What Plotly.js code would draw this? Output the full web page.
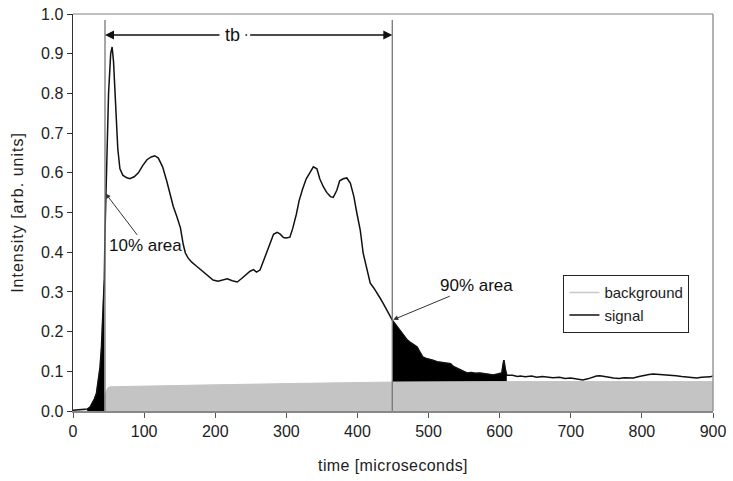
<!DOCTYPE html>
<html>
<head>
<meta charset="utf-8">
<script src="https://cdn.plot.ly/plotly-3.0.1.min.js"></script>
<style>
html,body{margin:0;padding:0;background:#fff;}
#chart{width:733px;height:481px;}
text.xtitle{letter-spacing:0.4px;}
text.ytitle{letter-spacing:1px;}
</style>
</head>
<body>
<div id="chart"></div>
<script>
// time axis (microseconds) and signal intensity
var signalTime = [0,10,20,24,27,30,33,36,38,40,42,44,45,47,50,53,55,57,60,63,
  66,70,75,80,86,92,98,104,110,115,120,126,132,137,141,146,151,155,158,162,
  167,173,179,184,190,197,204,210,217,224,231,238,245,249,254,258,263,267,272,277,
  282,287,291,296,300,305,309,314,318,323,328,333,338,343,347,352,357,362,366,371,
  375,380,385,390,395,399,404,408,411,415,418,423,427,432,436,441,446,449,
  452,456,460,465,470,475,480,484,488,492,497,502,506,512,518,526,531,535,540,546,
  550,554,560,566,572,578,584,591,597,603,605,606,608,610,618,625,629,636,645,652,
  660,667,675,684,692,700,708,717,724,730,736,741,748,754,760,768,775,782,788,796,
  803,810,816,824,832,840,848,856,864,870,877,884,890,896,900];
var signalValue = [0.002,0.003,0.005,0.01,0.02,0.03,0.045,0.08,0.11,0.16,0.24,0.33,0.45,0.62,0.8,0.9,0.917,0.88,0.76,0.66,
  0.61,0.594,0.588,0.585,0.59,0.6,0.618,0.633,0.64,0.643,0.637,0.615,0.578,0.545,0.515,0.49,0.462,0.42,0.398,0.385,
  0.375,0.366,0.357,0.35,0.342,0.33,0.327,0.33,0.333,0.328,0.325,0.335,0.345,0.352,0.356,0.35,0.355,0.375,0.398,0.425,
  0.445,0.45,0.446,0.437,0.436,0.438,0.46,0.495,0.53,0.56,0.585,0.6,0.615,0.61,0.585,0.565,0.55,0.54,0.538,0.556,
  0.58,0.585,0.587,0.574,0.54,0.5,0.455,0.398,0.373,0.34,0.322,0.31,0.297,0.284,0.272,0.255,0.237,0.229,
  0.222,0.212,0.204,0.19,0.179,0.172,0.165,0.161,0.148,0.136,0.132,0.13,0.128,0.124,0.122,0.121,0.119,0.112,0.108,0.103,
  0.099,0.096,0.097,0.095,0.096,0.094,0.093,0.091,0.093,0.096,0.12,0.128,0.105,0.09,0.09,0.087,0.088,0.086,0.088,0.085,
  0.087,0.086,0.084,0.085,0.082,0.083,0.08,0.078,0.081,0.085,0.088,0.089,0.086,0.085,0.083,0.082,0.084,0.083,0.083,0.087,
  0.09,0.092,0.093,0.092,0.091,0.091,0.089,0.087,0.085,0.084,0.083,0.085,0.085,0.086,0.088];

// background level
var backgroundTime  = [0,26,30,34,40,46,49,52,100,200,300,400,450,600,750,900];
var backgroundValue = [0,0,0.002,0.008,0.025,0.048,0.058,0.061,0.063,0.066,0.069,0.072,0.073,0.074,0.074,0.074];

// integration limits (10% and 90% area)
var limit10 = 45;
var limit90 = 449;
var limit90End = 610;
var limitTop = 0.985;
var tbLevel = 0.947;

// tick labels
var xTicks = [0,100,200,300,400,500,600,700,800,900];
var yTicks = [0,0.1,0.2,0.3,0.4,0.5,0.6,0.7,0.8,0.9,1.0];

function subset(lo, hi) {
  var xs = [], ys = [];
  for (var i = 0; i < signalTime.length; i++) {
    if (signalTime[i] >= lo && signalTime[i] <= hi) { xs.push(signalTime[i]); ys.push(signalValue[i]); }
  }
  return {x: xs, y: ys};
}
var left = subset(20, limit10 - 1);
var right = subset(limit90, limit90End);

var traces = [
  {x: right.x, y: right.y, type: 'scatter', mode: 'lines', fill: 'tozeroy',
   fillcolor: '#000', line: {color: '#000', width: 0.5}, showlegend: false, hoverinfo: 'skip'},
  {x: backgroundTime, y: backgroundValue, type: 'scatter', mode: 'lines', fill: 'tozeroy',
   fillcolor: '#c4c4c4', line: {color: '#c4c4c4', width: 1}, showlegend: false},
  {x: left.x, y: left.y, type: 'scatter', mode: 'lines', fill: 'tozeroy',
   fillcolor: '#000', line: {color: '#000', width: 0.5}, showlegend: false, hoverinfo: 'skip'},
  {x: signalTime, y: signalValue, type: 'scatter', mode: 'lines',
   line: {color: '#111', width: 1.5}, showlegend: false},
  {x: [null], y: [null], type: 'scatter', mode: 'lines', name: 'background',
   line: {color: '#c8c8c8', width: 1.5}},
  {x: [null], y: [null], type: 'scatter', mode: 'lines', name: 'signal',
   line: {color: '#111', width: 1.5}}
];

var fam = '"Liberation Sans", Arial, sans-serif';

var layout = {
  width: 733, height: 481,
  margin: {l: 73, r: 20, t: 14, b: 70},
  paper_bgcolor: '#fff', plot_bgcolor: '#fff',
  font: {family: fam, size: 15, color: '#222'},
  showlegend: true,
  legend: {x: 0.766, y: 0.3426, xanchor: 'left', yanchor: 'top',
    bgcolor: '#fff', bordercolor: '#222', borderwidth: 1.2,
    font: {family: fam, size: 15, color: '#222'}, itemwidth: 30, tracegroupgap: 0},
  xaxis: {range: [0, 900], tickvals: xTicks, ticktext: xTicks.map(String),
    ticks: 'outside', ticklen: 5, tickcolor: '#555', showline: true, linecolor: '#888', linewidth: 1.5,
    showgrid: false, zeroline: false, tickfont: {family: fam, size: 16, color: '#222'},
    title: {text: 'time [microseconds]', font: {family: fam, size: 16, color: '#222'}, standoff: 21}},
  yaxis: {range: [0, 1], tickvals: yTicks, ticktext: yTicks.map(function(v){return v.toFixed(1);}),
    ticks: 'outside', ticklen: 5, tickcolor: '#333', showline: true, linecolor: '#333', linewidth: 1.5,
    showgrid: false, zeroline: false, tickfont: {family: fam, size: 16, color: '#222'},
    title: {text: 'Intensity [arb. units]', font: {family: fam, size: 16, color: '#222'}, standoff: 13}},
  shapes: [
    {type: 'line', xref: 'paper', yref: 'paper', x0: 0, x1: 1, y0: 1, y1: 1, line: {color: '#aaa', width: 1.5}},
    {type: 'line', xref: 'paper', yref: 'paper', x0: 1, x1: 1, y0: 0, y1: 1, line: {color: '#999', width: 1.5}},
    {type: 'line', xref: 'x', yref: 'y', x0: limit10, x1: limit10, y0: 0, y1: limitTop, line: {color: '#777', width: 1.3}},
    {type: 'line', xref: 'x', yref: 'y', x0: limit90, x1: limit90, y0: 0, y1: limitTop, line: {color: '#777', width: 1.3}}
  ],
  annotations: [
    {x: limit10, y: tbLevel, ax: (limit10 + limit90) / 2, ay: tbLevel, axref: 'x', ayref: 'y',
     text: '', showarrow: true, arrowhead: 2, arrowsize: 1.2, arrowwidth: 1.5, arrowcolor: '#111'},
    {x: limit90, y: tbLevel, ax: (limit10 + limit90) / 2, ay: tbLevel, axref: 'x', ayref: 'y',
     text: '', showarrow: true, arrowhead: 2, arrowsize: 1.2, arrowwidth: 1.5, arrowcolor: '#111'},
    {x: (limit10 + limit90) / 2 - 23, y: tbLevel, text: 'tb', showarrow: false, bgcolor: '#fff',
     borderpad: 5, font: {family: fam, size: 18, color: '#111'}},
    {x: limit10, y: 0.55, ax: 102, ay: 0.416, axref: 'x', ayref: 'y', text: '10% area',
     showarrow: true, arrowhead: 2, arrowsize: 1, arrowwidth: 1, arrowcolor: '#333', standoff: 1,
     font: {family: fam, size: 17, color: '#111'}},
    {x: limit90, y: 0.229, ax: 567, ay: 0.317, axref: 'x', ayref: 'y', text: '90% area',
     showarrow: true, arrowhead: 2, arrowsize: 1, arrowwidth: 1, arrowcolor: '#333', standoff: 1,
     font: {family: fam, size: 17, color: '#111'}}
  ]
};

Plotly.newPlot('chart', traces, layout, {displayModeBar: false, staticPlot: true});
</script>
</body>
</html>
